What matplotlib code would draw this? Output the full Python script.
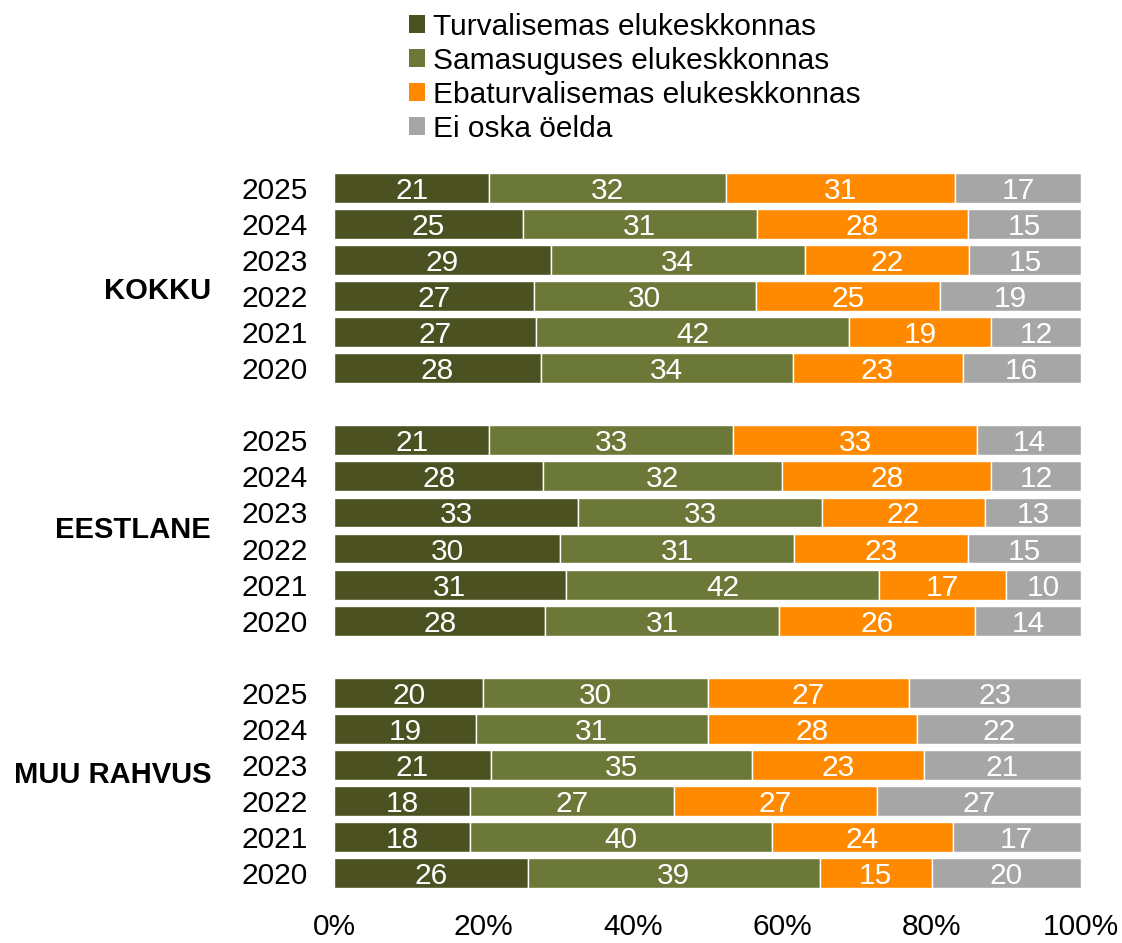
import matplotlib
matplotlib.use("Agg")
import matplotlib.pyplot as plt
from matplotlib.patches import Patch
import numpy as np

plt.rcParams['font.family'] = ['Liberation Sans', 'DejaVu Sans']

series = ["Turvalisemas elukeskkonnas", "Samasuguses elukeskkonnas",
          "Ebaturvalisemas elukeskkonnas", "Ei oska öelda"]
colors = ["#4B5121", "#6B7838", "#FF8A00", "#A6A6A6"]
groups = ["KOKKU", "EESTLANE", "MUU RAHVUS"]
years = ["2025", "2024", "2023", "2022", "2021", "2020"]

kokku = [[21, 32, 31, 17], [25, 31, 28, 15], [29, 34, 22, 15],
         [27, 30, 25, 19], [27, 42, 19, 12], [28, 34, 23, 16]]
eestlane = [[21, 33, 33, 14], [28, 32, 28, 12], [33, 33, 22, 13],
            [30, 31, 23, 15], [31, 42, 17, 10], [28, 31, 26, 14]]
muu = [[20, 30, 27, 23], [19, 31, 28, 22], [21, 35, 23, 21],
       [18, 27, 27, 27], [18, 40, 24, 17], [26, 39, 15, 20]]
group_data = [kokku, eestlane, muu]

FS = 21.5
W, H = 1122, 943
fig = plt.figure(figsize=(W / 100, H / 100), dpi=100)
ax = fig.add_axes([334 / W, 1 - 891 / H, (1081 - 334) / W, (891 - 170) / H])

positions = []
labels = []
rows = []
pos = 0
for gi, gd in enumerate(group_data):
    for yi, row in enumerate(gd):
        positions.append(pos)
        labels.append(years[yi])
        rows.append(row)
        pos += 1
    pos += 1

rows = np.array(rows, dtype=float)
totals = rows.sum(axis=1)
norm = rows / totals[:, None]
left = np.zeros(len(rows))
for si in range(4):
    ax.barh(positions, norm[:, si], left=left, height=0.83, color=colors[si],
            edgecolor="white", linewidth=1.0)
    for p, l, w, v in zip(positions, left, norm[:, si], rows[:, si]):
        ax.text(l + w / 2, p, f"{int(v)}", ha="center", va="center_baseline",
                color="white", fontsize=FS)
    left += norm[:, si]

ax.set_ylim(max(positions) + 0.5, -0.5)
ax.set_xlim(0, 1)
ax.set_yticks(positions)
ax.set_yticklabels(labels, fontsize=FS, va="center_baseline")
ax.set_xticks([0, 0.2, 0.4, 0.6, 0.8, 1.0])
ax.set_xticklabels(["0%", "20%", "40%", "60%", "80%", "100%"], fontsize=FS)
ax.tick_params(axis="both", length=0)
ax.tick_params(axis="x", pad=16)
ax.tick_params(axis="y", pad=19)
for s in ax.spines.values():
    s.set_visible(False)

group_y = [288, 527, 772]
for g, yy in zip(groups, group_y):
    fig.text(211 / W, 1 - yy / H, g, ha="right", va="center_baseline",
             fontsize=21, fontweight="bold")

handles = [Patch(facecolor=c, edgecolor="none") for c in colors]
fig.legend(handles, series, loc="upper left", bbox_to_anchor=(397 / W, 1 - 1 / H),
           frameon=False, fontsize=FS, handlelength=0.55, handleheight=0.55,
           handletextpad=0.25, labelspacing=0.2, borderaxespad=0)

fig.savefig("out.png", dpi=100)
